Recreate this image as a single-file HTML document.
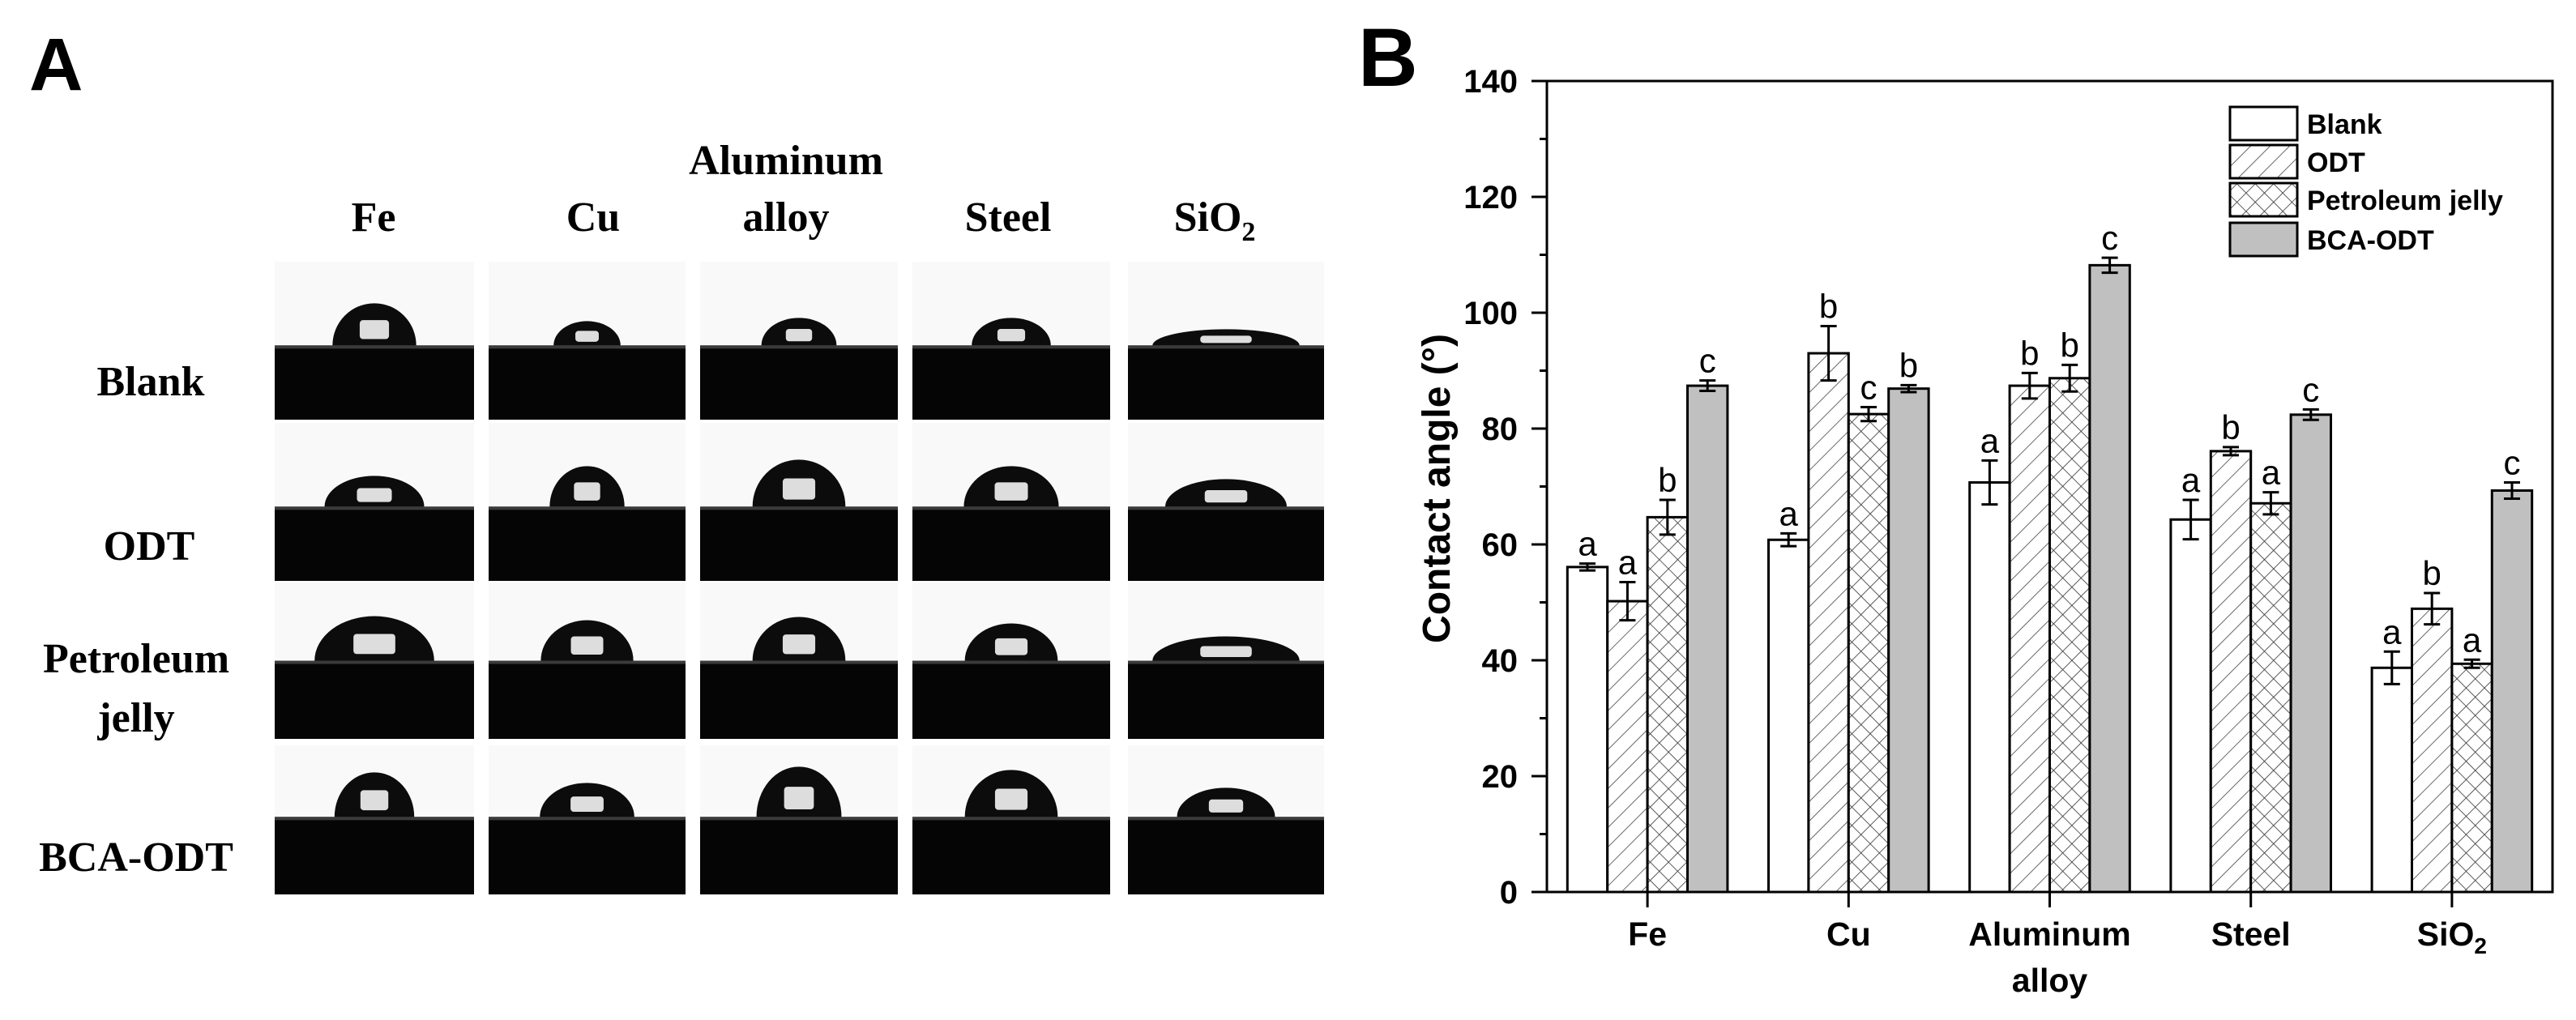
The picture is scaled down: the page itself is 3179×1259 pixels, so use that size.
<!DOCTYPE html>
<html><head><meta charset="utf-8"><style>
html,body{margin:0;padding:0;background:#fff;}
svg{display:block;}
</style></head><body>
<svg id="fig" width="3179" height="1259" viewBox="0 0 3179 1259" xmlns="http://www.w3.org/2000/svg">
<defs>
<pattern id="diag" patternUnits="userSpaceOnUse" width="17" height="17" patternTransform="rotate(45)">
<rect width="17" height="17" fill="#fff"/><line x1="0" y1="0" x2="0" y2="17" stroke="#444" stroke-width="1.6"/>
</pattern>
<pattern id="cross" patternUnits="userSpaceOnUse" width="16" height="16" patternTransform="rotate(45)">
<rect width="16" height="16" fill="#fff"/><line x1="0" y1="0" x2="0" y2="16" stroke="#333" stroke-width="1.6"/><line x1="0" y1="0" x2="16" y2="0" stroke="#333" stroke-width="1.6"/>
</pattern>
</defs>
<text x="36" y="111" font-family="Liberation Sans, sans-serif" font-weight="bold" font-size="92">A</text>
<text x="1676" y="106" font-family="Liberation Sans, sans-serif" font-weight="bold" font-size="102">B</text>
<g id="panelA" font-family="Liberation Serif, serif" font-weight="bold" font-size="52" text-anchor="middle"></g>
<g id="chart"></g>
</svg>
<script>
var NS='http://www.w3.org/2000/svg';
function mk(tag,attrs,parent){var e=document.createElementNS(NS,tag);for(var k in attrs)e.setAttribute(k,attrs[k]);parent.appendChild(e);return e;}

// ---------- Panel A (photos) ----------
var colLabels=['Fe','Cu','Aluminum alloy','Steel','SiO2'];
var rowLabels=['Blank','ODT','Petroleum jelly','BCA-ODT'];
var dropW=[[0.42,0.34,0.38,0.4,0.75],[0.5,0.38,0.47,0.48,0.62],[0.6,0.47,0.47,0.47,0.75],[0.4,0.48,0.43,0.47,0.5]];
var dropH=[[52,30,34,34,20],[38,50,58,50,34],[55,50,54,46,30],[55,42,62,58,36]];
var A=document.getElementById('panelA');
var colX=[[339,585],[603,846],[864,1108],[1126,1370],[1392,1634]];
var rowY=[[323,518],[522,717],[719,912],[920,1104]];
var baseF=[0.53,0.53,0.5,0.48];
for(var r=0;r<4;r++){for(var c=0;c<5;c++){
 var x0=colX[c][0],x1=colX[c][1],y0=rowY[r][0],y1=rowY[r][1];
 var g=mk('g',{},A);
 
 
 var by=y0+(y1-y0)*baseF[r];
 mk('rect',{x:x0,y:y0,width:x1-x0,height:by-y0,fill:'#f9f9f9'},g);
 mk('rect',{x:x0,y:by,width:x1-x0,height:y1-by,fill:'#050505'},g);
 mk('rect',{x:x0,y:by,width:x1-x0,height:4,fill:'#3a3a3a'},g);
 var cx=(x0+x1)/2,rw=(x1-x0)*dropW[r][c]/2,h=dropH[r][c];
 mk('path',{d:'M'+(cx-rw)+','+by+' A'+rw+','+h+' 0 0 1 '+(cx+rw)+','+by+' Z',fill:'#0c0c0c'},g);
 mk('rect',{x:cx-rw*0.35,y:by-h*0.6,width:rw*0.7,height:h*0.45,fill:'#ddd',rx:4},g);
}}
var colCx=[461,732,970,1244,1507];
for(var c=0;c<5;c++){
 var t;
 if(c===2){
  t=mk('text',{x:colCx[c],y:215},A);t.textContent='Aluminum';
  
  t=mk('text',{x:colCx[c],y:285},A);t.textContent='alloy';
  
 } else if(c===4){
  t=mk('text',{x:colCx[c]-8,y:285},A);t.innerHTML='SiO<tspan font-size="34" dy="12">2</tspan>';
  
 } else {
  t=mk('text',{x:colCx[c],y:285},A);t.textContent=colLabels[c];
  
 }
}
var rl=[[186,488,'Blank'],[184,691,'ODT'],[168,830,'Petroleum'],[168,903,'jelly'],[168,1075,'BCA-ODT']];
rl.forEach(function(d){var t=mk('text',{x:d[0],y:d[1]},A);t.textContent=d[2];
 });

// ---------- Panel B chart data ----------
var categories=['Fe','Cu','Aluminum alloy','Steel','SiO2'];
var seriesNames=['Blank','ODT','Petroleum jelly','BCA-ODT'];
var blankVals=[56.1,60.8,70.7,64.3,38.7];
var odtVals=[50.2,93.0,87.4,76.1,48.9];
var pjVals=[64.7,82.5,88.7,67.1,39.4];
var bcaVals=[87.4,86.9,108.2,82.4,69.3];
var blankErr=[0.6,1.1,3.8,3.4,2.8];
var odtErr=[3.3,4.7,2.2,0.7,2.7];
var pjErr=[3.0,1.2,2.3,1.9,0.7];
var bcaErr=[0.9,0.6,1.3,0.9,1.4];
var blankSig=['a','a','a','a','a'];
var odtSig=['a','b','b','b','b'];
var pjSig=['b','c','b','a','a'];
var bcaSig=['c','b','c','c','c'];
var yTicks=[0,20,40,60,80,100,120,140];

var L=1909,R=3150,T=100,B=1101,yMax=140;
function y(v){return B-(v/yMax)*(B-T);}
var band=(R-L)/categories.length;
function xc(i){return L+band*(i+0.5);}
var barW=49.4;
var fills=['#fff','url(#diag)','url(#cross)','#c0c0c0'];
var vals=[blankVals,odtVals,pjVals,bcaVals],errs=[blankErr,odtErr,pjErr,bcaErr],sigs=[blankSig,odtSig,pjSig,bcaSig];
var C=document.getElementById('chart');
var bars=mk('g',{},C);
for(var i=0;i<categories.length;i++){
 for(var s=0;s<4;s++){
  var v=vals[s][i],e=errs[s][i];
  var bx=xc(i)+(s-2)*barW;
  var rc=mk('rect',{x:bx,y:y(v),width:barW,height:B-y(v),fill:fills[s],stroke:'#000','stroke-width':3},bars);
  
  
  var m=bx+barW/2;
  var eb=mk('path',{d:'M'+m+','+y(v+e)+'V'+y(v-e)+'M'+(m-10)+','+y(v+e)+'h20M'+(m-10)+','+y(v-e)+'h20',stroke:'#000','stroke-width':3,fill:'none'},bars);
  
  
  var lt=mk('text',{x:m,y:y(v+e)-10,'text-anchor':'middle','font-family':'Liberation Sans, sans-serif','font-size':42},bars);
  lt.textContent=sigs[s][i];
  
  
 }
}
var fr=mk('rect',{x:L,y:T,width:R-L,height:B-T,fill:'none',stroke:'#000','stroke-width':3},C);


for(var v=0;v<=yMax;v+=10){
 var major=v%20===0;
 mk('line',{x1:L-(major?19:9),x2:L,y1:y(v),y2:y(v),stroke:'#000','stroke-width':3},C);
}
yTicks.forEach(function(v){
 var t=mk('text',{x:1873,y:y(v)+14,'text-anchor':'end','font-family':'Liberation Sans, sans-serif','font-weight':'bold','font-size':40},C);
 t.textContent=v;
 
 
});
for(var i=0;i<categories.length;i++){
 mk('line',{x1:xc(i),x2:xc(i),y1:B,y2:B+19,stroke:'#000','stroke-width':3},C);
 var t=mk('text',{x:xc(i),y:1167,'text-anchor':'middle','font-family':'Liberation Sans, sans-serif','font-weight':'bold','font-size':41},C);
 
 
 if(categories[i]==='SiO2'){t.innerHTML='SiO<tspan font-size="28" dy="10">2</tspan>';}
 else if(categories[i]==='Aluminum alloy'){t.textContent='Aluminum';
  var t2=mk('text',{x:xc(i),y:1224,'text-anchor':'middle','font-family':'Liberation Sans, sans-serif','font-weight':'bold','font-size':41},C);
  t2.textContent='alloy';
  
  }
 else t.textContent=categories[i];
}
var yt=mk('text',{x:0,y:0,transform:'translate(1789,603) rotate(-90)','text-anchor':'middle','font-family':'Liberation Sans, sans-serif','font-weight':'bold','font-size':48},C);
yt.textContent='Contact angle (°)';


var legY=[132,179,226,275];
for(var s=0;s<4;s++){
 var lg=mk('g',{},C);
 
 
 mk('rect',{x:2752,y:legY[s],width:83,height:41,fill:fills[s],stroke:'#000','stroke-width':3},lg);
 var t=mk('text',{x:2847,y:legY[s]+33,'font-family':'Liberation Sans, sans-serif','font-weight':'bold','font-size':34},lg);
 t.textContent=seriesNames[s];
}
</script>
</body></html>
